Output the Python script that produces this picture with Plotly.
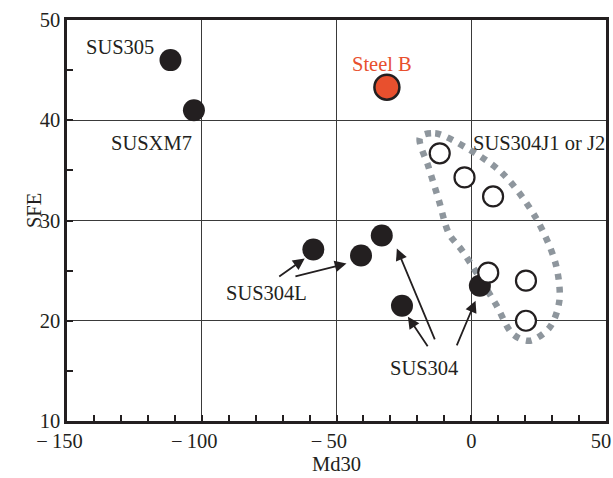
import plotly.graph_objects as go

# Md30 (x) vs stacking fault energy (y)
grade_x = [-111.6, -102.9]
grade_y = [46.0, 41.0]

steel_b_x = [-31.3]
steel_b_y = [43.3]

# SUS304L and SUS304 heats (filled markers)
sus304l_x = [-58.6, -40.9]
sus304l_y = [27.1, 26.5]
sus304_x = [-33.2, -25.7, 3.2]
sus304_y = [28.5, 21.5, 23.5]

# SUS304J1 / J2 heats (open markers)
j_x = [-11.7, -2.5, 8.1, 6.3, 20.3, 20.3]
j_y = [36.7, 34.3, 32.4, 24.8, 24.0, 20.0]

# Outline enclosing the J1/J2 group
region_x = [-19.0, -13.4, -1.5, 11.6, 23.9, 31.3, 32.7, 29.0, 21.5, 15.3, 9.0, -3.4, -8.3, -12.0, -15.8, -19.0]
region_y = [38.3, 38.7, 37.2, 34.7, 30.3, 25.7, 22.0, 19.3, 18.0, 18.7, 21.7, 27.0, 28.7, 32.0, 35.3, 38.3]

NB = "\u00a0"
x_ticks = [-150, -100, -50, 0, 50]
x_tick_text = ["\u2212\u2009150" + NB, "\u2212\u2009100" + NB, "\u2212\u200950" + NB,
               NB * 2 + "0", "50"]
y_ticks = [10, 20, 30, 40, 50]

FONT = "Liberation Serif"
FS = 20.5
BLACK = "#231f20"

fig = go.Figure()

fig.add_trace(go.Scatter(
    x=region_x, y=region_y, mode="lines",
    line=dict(color="#8e969d", width=6.5, dash="6px,7px", shape="spline", smoothing=0.9),
    hoverinfo="skip",
))

filled = dict(size=22, color=BLACK, line=dict(width=0))
fig.add_trace(go.Scatter(x=grade_x, y=grade_y, mode="markers", marker=filled))
fig.add_trace(go.Scatter(x=sus304l_x, y=sus304l_y, mode="markers", marker=filled))
fig.add_trace(go.Scatter(x=sus304_x, y=sus304_y, mode="markers", marker=filled))
fig.add_trace(go.Scatter(
    x=j_x, y=j_y, mode="markers",
    marker=dict(size=20, color="white", line=dict(width=2.2, color=BLACK)),
))
fig.add_trace(go.Scatter(
    x=steel_b_x, y=steel_b_y, mode="markers",
    marker=dict(size=25, color="#e8502e", line=dict(width=2.5, color=BLACK)),
))

labels = [
    ("SUS305", -130.2, 47.3, BLACK),
    ("SUSXM7", -118.8, 37.7, BLACK),
    ("Steel B", -33.2, 45.6, "#e8502e"),
    ("SUS304J1 or J2", 25.0, 37.7, BLACK),
    ("SUS304L", -75.8, 22.8, BLACK),
    ("SUS304", -17.4, 15.3, BLACK),
]
for text, lx, ly, col in labels:
    fig.add_annotation(x=lx, y=ly, text=text, showarrow=False,
                       font=dict(family=FONT, size=FS, color=col))

# Arrows: (tail x, tail y, head x, head y)
arrows = [
    (-71.8, 24.3, -61.8, 26.2),
    (-65.8, 24.4, -46.3, 25.7),
    (-15.8, 17.3, -23.5, 20.4),
    (-13.3, 18.0, -27.6, 27.2),
    (-5.6, 17.4, 1.6, 22.0),
]
for tx, ty, hx, hy in arrows:
    fig.add_annotation(x=hx, y=hy, ax=tx, ay=ty, xref="x", yref="y", axref="x", ayref="y",
                       text="", showarrow=True, arrowhead=2, arrowsize=1.3, arrowwidth=1.8,
                       arrowcolor=BLACK)

# y-axis title, placed a little above the middle of the axis
fig.add_annotation(x=-0.085, y=0.524, xref="paper", yref="paper", text="SFE",
                   textangle=-90, showarrow=False,
                   font=dict(family=FONT, size=FS, color=BLACK))

fig.update_layout(
    width=613, height=478,
    margin=dict(l=67, r=7, t=20, b=57),
    paper_bgcolor="white", plot_bgcolor="white",
    showlegend=False,
    font=dict(family=FONT, size=FS, color=BLACK),
)
fig.update_xaxes(
    range=[-150, 50], tickvals=x_ticks, ticktext=x_tick_text, automargin=False,
    ticklabelshift=-5,
    showgrid=True, gridcolor="#3a3a3a", gridwidth=1,
    showline=True, linecolor=BLACK, linewidth=2.5, mirror=True,
    ticks="inside", ticklen=6, tickwidth=1.5, tickcolor=BLACK,
    minor=dict(dtick=10, tick0=-150, ticks="inside", ticklen=6, tickwidth=1.5, tickcolor=BLACK, showgrid=False),
    zeroline=False,
    title=dict(text="Md30", font=dict(family=FONT, size=FS), standoff=6),
    tickfont=dict(family=FONT, size=FS),
)
fig.update_yaxes(
    range=[10, 50], tickvals=y_ticks, automargin=False,
    showgrid=True, gridcolor="#3a3a3a", gridwidth=1,
    showline=True, linecolor=BLACK, linewidth=2.5, mirror=True,
    ticks="inside", ticklen=6, tickwidth=1.5, tickcolor=BLACK,
    minor=dict(dtick=5, tick0=10, ticks="inside", ticklen=6, tickwidth=1.5, tickcolor=BLACK, showgrid=False),
    zeroline=False,
    tickfont=dict(family=FONT, size=FS),
)

fig.write_html("out.html")
